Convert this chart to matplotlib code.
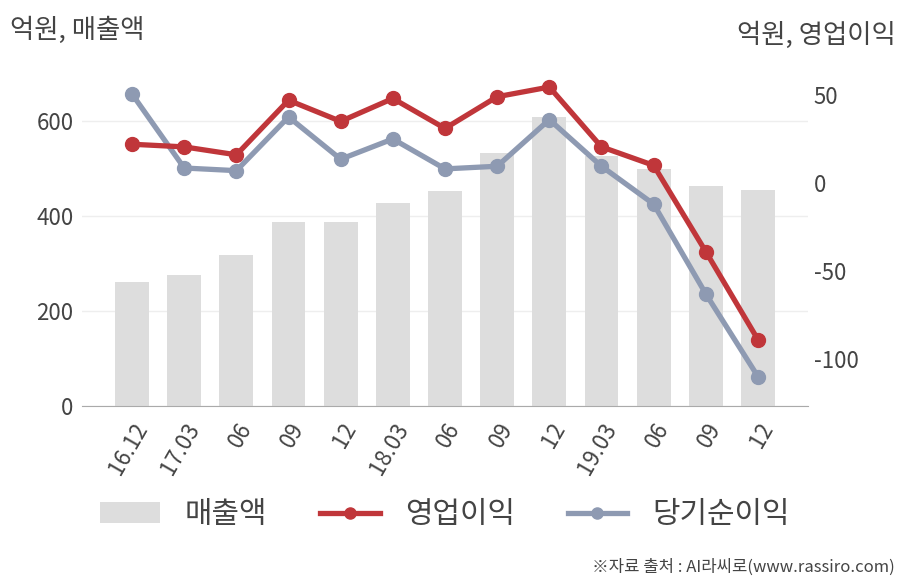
import numpy as np
import matplotlib
matplotlib.use("Agg")
import matplotlib.pyplot as plt

plt.rcParams['font.family'] = ['Noto Sans CJK KR', 'DejaVu Sans']
plt.rcParams['axes.unicode_minus'] = False

# data (억원)
periods = ['16.12', '17.03', '06', '09', '12', '18.03', '06', '09', '12', '19.03', '06', '09', '12']
sales = [261, 276, 318, 389, 387, 427, 453, 533, 610, 528, 500, 463, 455]
op_profit = [22, 20.5, 16, 47, 35, 48, 31, 49, 54.5, 20.5, 10, -39, -89]
net_profit = [50.5, 8.5, 7, 37.5, 13.5, 25, 8, 9.5, 36, 9.5, -12, -63, -110]

bar_col = '#dddddd'
red = '#c0363a'
blue = '#8e9ab2'
txt = '#444444'

fig = plt.figure(figsize=(9.08, 5.8), dpi=100)
ax = fig.add_axes([0.0903, 0.30, 0.7996, 0.5724])
x = np.arange(len(periods))

ax.bar(x, sales, width=0.65, color=bar_col, zorder=2, label='매출액')
ax.set_xlim(-0.96, 12.96)
ax.set_ylim(0, 700)
ax.set_yticks([0, 200, 400, 600])
ax.yaxis.grid(True, color='#eeeeee', lw=1, zorder=0)
ax.set_axisbelow(True)
for s in ['top', 'right', 'left']:
    ax.spines[s].set_visible(False)
ax.spines['bottom'].set_color('#aaaaaa')
ax.tick_params(length=0, labelsize=16, colors=txt)
ax.tick_params(axis='y', pad=6)
ax.set_xticks(x)
ax.set_xticklabels(periods, rotation=60, ha='right', rotation_mode='anchor')
ax.tick_params(axis='x', pad=9)

ax2 = ax.twinx()
ax2.plot(x, op_profit, color=red, lw=3.8, marker='o', ms=10, zorder=4, label='영업이익')
ax2.plot(x, net_profit, color=blue, lw=3.8, marker='o', ms=10, zorder=3, label='당기순이익')
ax2.set_ylim(-126.7, 61.9)
ax2.set_yticks([-100, -50, 0, 50])
for s in ax2.spines.values():
    s.set_visible(False)
ax2.tick_params(length=0, labelsize=16, colors=txt, pad=4)

fig.text(0.011, 0.948, '억원, 매출액', fontsize=19, color=txt, ha='left', va='center')
fig.text(0.986, 0.94, '억원, 영업이익', fontsize=19, color=txt, ha='right', va='center')
fig.text(0.985, 0.022, '※자료 출처 : AI라씨로(www.rassiro.com)', fontsize=12, color=txt,
         ha='right', va='center')

h1, l1 = ax.get_legend_handles_labels()
h2, l2 = ax2.get_legend_handles_labels()
fig.legend(h1 + h2, l1 + l2, loc='center', bbox_to_anchor=(0.49, 0.113), ncol=3,
           frameon=False, fontsize=21.5, labelcolor=txt, handlelength=2.0,
           handleheight=0.7, columnspacing=1.77, handletextpad=0.83, markerscale=0.8)

fig.savefig('out.png', dpi=100)
